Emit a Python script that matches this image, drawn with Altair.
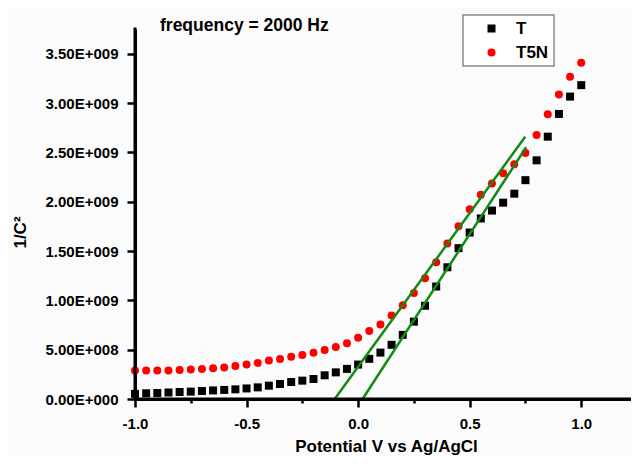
import altair as alt
import pandas as pd

# ---- data (y values in units of 1E+009) ----
potential = [-1.0, -0.95, -0.9, -0.85, -0.8, -0.75, -0.7, -0.65, -0.6, -0.55,
             -0.5, -0.45, -0.4, -0.35, -0.3, -0.25, -0.2, -0.15, -0.1, -0.05,
             0.0, 0.05, 0.1, 0.15, 0.2, 0.25, 0.3, 0.35, 0.4, 0.45,
             0.5, 0.55, 0.6, 0.65, 0.7, 0.75, 0.8, 0.85, 0.9, 0.95, 1.0]
t_vals = [0.052, 0.058, 0.061, 0.066, 0.071, 0.075, 0.081, 0.087, 0.092, 0.098,
          0.107, 0.118, 0.135, 0.152, 0.172, 0.186, 0.203, 0.240, 0.270, 0.305,
          0.349, 0.407, 0.470, 0.549, 0.650, 0.784, 0.945, 1.140, 1.335, 1.529,
          1.687, 1.830, 1.910, 1.990, 2.081, 2.218, 2.419, 2.659, 2.889, 3.065, 3.181]
t5n_vals = [0.290, 0.290, 0.288, 0.288, 0.293, 0.298, 0.305, 0.312, 0.320, 0.335,
            0.350, 0.366, 0.389, 0.406, 0.427, 0.447, 0.470, 0.497, 0.526, 0.565,
            0.620, 0.690, 0.756, 0.847, 0.951, 1.075, 1.225, 1.386, 1.575, 1.751,
            1.924, 2.069, 2.185, 2.287, 2.378, 2.493, 2.676, 2.886, 3.085, 3.265, 3.408]
series_names = ["T", "T5N"]
series_colors = ["#000000", "#ff0000"]
series_shapes = ["square", "circle"]

fit_names = ["fit T5N", "fit T"]
fit_t5n_x = [-0.105, 0.749]
fit_t5n_y = [0.0, 2.659]
fit_t_x = [0.020, 0.753]
fit_t_y = [0.0, 2.551]

x_domain = [-1.0, 1.25]
y_domain = [0.0, 3.75]
# tick values: majors carry labels, minors (quarter steps) are short and unlabeled
x_ticks = [-1.0, -0.75, -0.5, -0.25, 0.0, 0.25, 0.5, 0.75, 1.0, 1.25]
y_ticks = [0.0, 0.25, 0.5, 0.75, 1.0, 1.25, 1.5, 1.75, 2.0, 2.25, 2.5, 2.75,
           3.0, 3.25, 3.5, 3.75]

title_text = "frequency = 2000 Hz"
x_title = "Potential V vs Ag/AgCl"
y_title = "1/C\u00b2"

FONT = "Liberation Sans"
BG = "#fbfbfb"

# ---- tables ----
pts = pd.DataFrame({
    "potential": potential * 2,
    "value": t_vals + t5n_vals,
    "series": [series_names[0]] * len(potential) + [series_names[1]] * len(potential),
})
fits = pd.DataFrame({
    "potential": fit_t5n_x + fit_t_x,
    "value": fit_t5n_y + fit_t_y,
    "fit": [fit_names[0]] * 2 + [fit_names[1]] * 2,
})
label_df = pd.DataFrame({"label": [title_text]})

xscale = alt.Scale(domain=x_domain, nice=False, zero=False)
yscale = alt.Scale(domain=y_domain, nice=False, zero=False)

is_major = "abs(datum.value * 2 - round(datum.value * 2)) < 0.001"

x_axis = alt.Axis(
    orient="bottom", values=x_ticks,
    tickSize=alt.condition(is_major, alt.value(8), alt.value(4)),
    tickWidth=2.5, tickColor="black",
    domain=True, domainColor="#000000", domainWidth=3, grid=False,
    labelFont=FONT, labelFontSize=15, labelFontWeight="bold", labelColor="black",
    labelPadding=9, labelFlush=False, labelOverlap=False,
    labelExpr="abs(datum.value * 2 - round(datum.value * 2)) < 0.001 ? (datum.value < 0 ? '-' : '') + format(abs(datum.value), '.1f') : ''",
    title=x_title, titleFont=FONT, titleFontSize=17, titleFontWeight="bold",
    titleColor="black", titleY=39, titleBaseline="top",
)
y_axis = alt.Axis(
    orient="left", values=y_ticks,
    tickSize=alt.condition(is_major, alt.value(8), alt.value(4)),
    tickWidth=2.5, tickColor="black",
    domain=True, domainColor="#000000", domainWidth=3, grid=False,
    labelFont=FONT, labelFontSize=15, labelFontWeight="bold", labelColor="black",
    labelPadding=9, labelFlush=False, labelOverlap=False,
    labelExpr="abs(datum.value * 2 - round(datum.value * 2)) < 0.001 ? (datum.value == 0 ? '0.00E+000' : (datum.value < 1 ? format(datum.value * 10, '.2f') + 'E+008' : format(datum.value, '.2f') + 'E+009')) : ''",
    title=y_title, titleFont=FONT, titleFontSize=17, titleFontWeight="bold",
    titleColor="black", titleX=-106, titleY=203, titleAngle=270,
    titleAlign="center", titleBaseline="bottom",
)

legend = alt.Legend(
    title=None, orient="none", legendX=328, legendY=-14,
    fillColor="#ffffff", strokeColor="#8a8a8a", padding=5,
    symbolOffset=15, labelOffset=16, rowPadding=6, symbolSize=64,
    labelFont=FONT, labelFontSize=17, labelFontWeight="bold", labelColor="black",
)

points = alt.Chart(pts).mark_point(filled=True, size=64, opacity=1).encode(
    x=alt.X("potential:Q", scale=xscale, axis=x_axis),
    y=alt.Y("value:Q", scale=yscale, axis=y_axis),
    color=alt.Color("series:N", scale=alt.Scale(domain=series_names, range=series_colors), legend=legend),
    shape=alt.Shape("series:N", scale=alt.Scale(domain=series_names, range=series_shapes), legend=legend),
)
lines = alt.Chart(fits).mark_line(color="#138a13", strokeWidth=2.5).encode(
    x=alt.X("potential:Q", scale=xscale),
    y=alt.Y("value:Q", scale=yscale),
    detail="fit:N",
)
# axis baselines (drawn along the scale domain edges)
x_base = alt.Chart(label_df).mark_rule(color="black", strokeWidth=3, strokeCap="square").encode(
    x=alt.datum(x_domain[0], type="quantitative", scale=xscale),
    x2=alt.datum(x_domain[1]),
    y=alt.datum(y_domain[0], type="quantitative", scale=yscale),
)
y_base = alt.Chart(label_df).mark_rule(color="black", strokeWidth=3, strokeCap="square").encode(
    x=alt.datum(x_domain[0], type="quantitative", scale=xscale),
    y=alt.datum(y_domain[0], type="quantitative", scale=yscale),
    y2=alt.datum(y_domain[1]),
)
note = alt.Chart(label_df).mark_text(
    align="left", baseline="alphabetic", font=FONT, fontSize=17.5, fontWeight="bold", color="black"
).encode(x=alt.value(25), y=alt.value(2), text="label:N")

chart = alt.layer(points, lines, x_base, y_base, note).properties(
    width=502, height=370,
    autosize=alt.AutoSizeParams(type="none"),
    padding={"left": 127, "top": 21, "right": -6, "bottom": 57},
    background=BG,
).configure_view(stroke=None).configure_legend(strokeWidth=1.5)

chart.save("out.html", embed_options={"renderer": "svg", "actions": False})
